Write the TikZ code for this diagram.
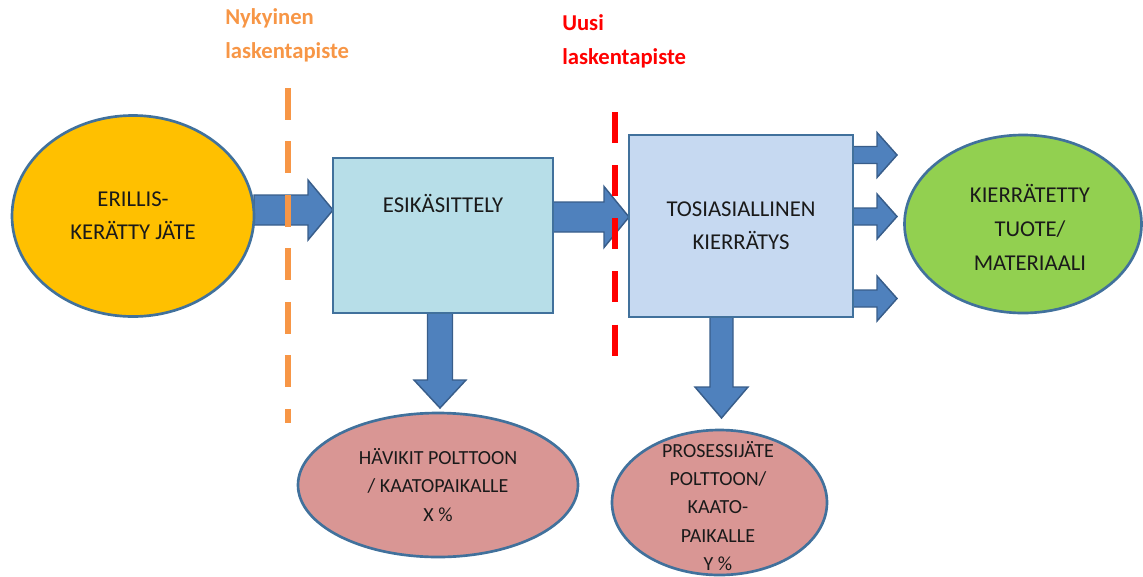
\documentclass[tikz,border=0pt]{standalone}
\usepackage{fontspec}
\setmainfont{Carlito}
\usetikzlibrary{calc,shapes.geometric}
\pgfdeclarelayer{background}
\pgfsetlayers{background,main}
\definecolor{bord}{HTML}{41719C}
\definecolor{arrfill}{HTML}{4F81BD}
\definecolor{arrbord}{HTML}{385D8A}
\definecolor{yelfill}{HTML}{FFC000}
\definecolor{esifill}{HTML}{B7DEE8}
\definecolor{tosfill}{HTML}{C6D9F1}
\definecolor{pinkfill}{HTML}{D99694}
\definecolor{grnfill}{HTML}{92D050}
\definecolor{orangelab}{HTML}{F79646}
\definecolor{redlab}{HTML}{FF0000}
\definecolor{txt}{HTML}{1A1A1A}
\newcommand{\hblk}[5]{\draw[barrow] ($(#1)+(0,-#3)$) -- ($(#2)+(-#5,-#3)$) -- ($(#2)+(-#5,-#4)$) -- (#2) -- ($(#2)+(-#5,#4)$) -- ($(#2)+(-#5,#3)$) -- ($(#1)+(0,#3)$) -- cycle;}
\newcommand{\vblk}[5]{\draw[barrow] ($(#1)+(-#3,0)$) -- ($(#2)+(-#3,-#5)$) -- ($(#2)+(-#4,-#5)$) -- (#2) -- ($(#2)+(#4,-#5)$) -- ($(#2)+(#3,-#5)$) -- ($(#1)+(#3,0)$) -- cycle;}
\tikzset{
  ell/.style={ellipse, draw=bord, line width=2pt, outer sep=0pt, inner sep=0pt, text=txt, align=center},
  boxnode/.style={rectangle, draw=bord, line width=2.2pt, outer sep=0pt, inner sep=0pt, text=txt, align=center},
  bigtxt/.style={font=\fontsize{17}{24.5}\selectfont},
  smalltxt/.style={font=\fontsize{15}{21.3}\selectfont},
  barrow/.style={fill=arrfill, draw=arrbord, line width=1.1pt, line join=miter},
  labtxt/.style={font=\fontsize{17}{25.5}\selectfont\bfseries, align=left, anchor=west, inner sep=0pt},
  cutline/.style={line width=#1}
}
\begin{document}
\begin{tikzpicture}[x=0.75pt,y=-0.75pt]
\useasboundingbox (0,0) rectangle (1143,576);
% nodes
\node[ell, fill=yelfill, minimum width=181.5pt, minimum height=150.75pt, bigtxt] (yel) at (133,216) {ERILLIS-\\KERÄTTY JÄTE};
\node[boxnode, fill=esifill, minimum width=165pt, minimum height=116.25pt] (esi) at (443,235.5) {};
\node[text=txt, bigtxt, inner sep=0pt] (esiT) at (443,203) {ESIKÄSITTELY};
\node[boxnode, fill=tosfill, minimum width=168pt, minimum height=136.5pt, bigtxt] (tos) at (741,226) {TOSIASIALLINEN\\KIERRÄTYS};
\node[ell, fill=grnfill, minimum width=177.75pt, minimum height=133.5pt] (grn) at (1023,224) {};
\node[text=txt, bigtxt, align=center, inner sep=0pt, font=\fontsize{17}{25.5}\selectfont] (grnT) at (1030,227) {KIERRÄTETTY\\TUOTE/\\MATERIAALI};
\node[ell, fill=pinkfill, minimum width=210pt, minimum height=108pt, smalltxt] (pk1) at (438,485) {HÄVIKIT POLTTOON\\/ KAATOPAIKALLE\\X \%};
\node[ell, fill=pinkfill, minimum width=161.25pt, minimum height=108.75pt] (pk2) at (719.5,502.5) {};
\node[text=txt, smalltxt, align=center, inner sep=0pt] (pk2T) at (718,506) {PROSESSIJÄTE\\POLTTOON/\\KAATO-\\PAIKALLE\\Y \%};
% labels
\node[labtxt, text=orangelab] (labNy) at (225,35) {Nykyinen\\laskentapiste};
\node[labtxt, text=redlab] (labUu) at (562,41) {Uusi\\laskentapiste};
% connector coordinates
\coordinate (a1s) at (yel.east |- 0,210);
\coordinate (a1e) at (esi.west |- 0,210);
\coordinate (a2s) at (esi.east |- 0,217);
\coordinate (a2e) at (tos.west |- 0,217);
\coordinate (r1s) at (tos.east |- 0,155);
\coordinate (r2s) at (tos.east |- 0,216.5);
\coordinate (r3s) at (tos.east |- 0,298.5);
\coordinate (r1e) at ($(r1s)+(44,0)$);
\coordinate (r2e) at ($(r2s)+(44,0)$);
\coordinate (r3e) at ($(r3s)+(44,0)$);
\coordinate (d1s) at (esi.south -| 440,0);
\coordinate (d1e) at ($(pk1.north)+(2,-5)$);
\coordinate (d2s) at (tos.south -| 721.5,0);
\coordinate (d2e) at ($(pk2.north)+(2,-12)$);
\begin{pgfonlayer}{background}
\hblk{a1s}{a1e}{15}{30}{25}
\hblk{a2s}{a2e}{15}{30.5}{25}
\hblk{r1s}{r1e}{8.5}{22.5}{20}
\hblk{r2s}{r2e}{8.5}{22.5}{20}
\hblk{r3s}{r3e}{8.5}{22.5}{20}
\vblk{d1s}{d1e}{12.5}{26}{28}
\vblk{d2s}{d2e}{11.5}{26.5}{31}
\end{pgfonlayer}
% calculation points
\coordinate (o1) at (288,88);
\coordinate (o2) at (288,423);
\coordinate (u1) at (615,112);
\coordinate (u2) at (615,357);
\draw[orangelab, line width=5.2pt, dash pattern=on 24pt off 16.1pt] (o1) -- (o2);
\draw[redlab, line width=4.5pt, dash pattern=on 23.25pt off 16.6pt] (u1) -- (u2);
\end{tikzpicture}
\end{document}
